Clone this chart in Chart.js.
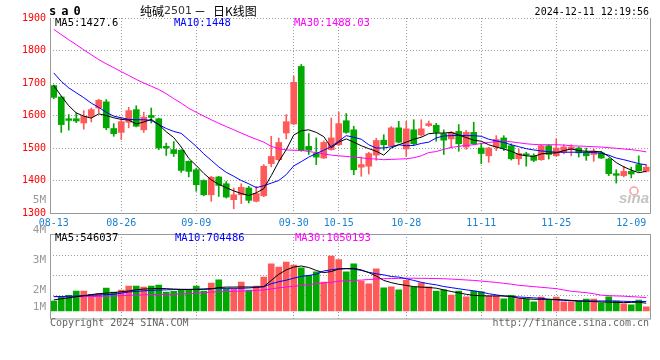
<!DOCTYPE html>
<html>
<head>
<meta charset="utf-8">
<script src="https://cdn.jsdelivr.net/npm/chart.js@4.4.1/dist/chart.umd.min.js"></script>
<style>
  html, body { margin: 0; padding: 0; background: #fff; }
  #wrap { position: relative; width: 660px; height: 360px; }
  #wrap canvas { position: absolute; left: 0; top: 0; }
</style>
</head>
<body>
<div id="wrap">
  <canvas id="kline" width="660" height="360"></canvas>
  <canvas id="vol" width="660" height="360"></canvas>
</div>
<script>
// 交易日
const dates = ['08-13','08-14','08-15','08-16','08-19','08-20','08-21','08-22','08-23',
  '08-26','08-27','08-28','08-29','08-30','09-02','09-03','09-04','09-05','09-06',
  '09-09','09-10','09-11','09-12','09-13','09-18','09-19','09-20','09-23','09-24','09-25','09-26','09-27',
  '09-30','10-08','10-09','10-10','10-11','10-14',
  '10-15','10-16','10-17','10-18','10-21','10-22','10-23','10-24','10-25',
  '10-28','10-29','10-30','10-31','11-01','11-04','11-05','11-06','11-07','11-08',
  '11-11','11-12','11-13','11-14','11-15','11-18','11-19','11-20','11-21','11-22',
  '11-25','11-26','11-27','11-28','11-29','12-02','12-03','12-04','12-05','12-06',
  '12-09','12-10','12-11'];
const xTickLabels = ['08-13','08-26','09-09','09-30','10-15','10-28','11-11','11-25','12-09'];
const priceTicks = [1300, 1400, 1500, 1600, 1700, 1800, 1900];
const volTickLabels = ['4M', '3M', '2M', '1M'];

const open = [1692,1657,1590,1590,1577,1597,1623,1642,1560,1548,
  1579,1618,1556,1600,1590,1505,1495,1493,1459,1433,
  1400,1356,1411,1390,1341,1356,1377,1336,1353,1452,
  1464,1546,1574,1751,1505,1483,1469,1495,1510,1584,
  1556,1441,1444,1478,1524,1507,1562,1497,1556,1540,
  1569,1570,1544,1528,1551,1503,1548,1500,1476,1503,
  1531,1507,1467,1482,1476,1464,1507,1476,1487,1495,
  1500,1487,1480,1485,1466,1421,1415,1428,1449,1428];
const high = [1694,1659,1603,1608,1615,1623,1650,1649,1575,1595,
  1625,1630,1610,1623,1592,1515,1520,1495,1460,1438,
  1402,1413,1413,1397,1377,1390,1382,1382,1449,1536,
  1531,1603,1721,1757,1544,1531,1522,1592,1610,1606,
  1567,1472,1487,1530,1541,1566,1582,1582,1587,1587,
  1583,1576,1556,1551,1572,1554,1579,1515,1502,1538,
  1538,1513,1497,1487,1482,1510,1510,1528,1510,1510,
  1503,1500,1497,1490,1469,1433,1444,1441,1476,1449];
const low = [1652,1548,1555,1578,1558,1580,1608,1556,1536,1526,
  1562,1565,1548,1577,1495,1477,1474,1425,1411,1367,
  1353,1336,1351,1346,1313,1329,1331,1334,1350,1442,
  1460,1528,1572,1490,1480,1449,1468,1493,1507,1545,
  1418,1413,1420,1462,1493,1505,1516,1474,1508,1536,
  1566,1521,1480,1500,1490,1496,1510,1452,1456,1492,
  1492,1463,1449,1444,1458,1462,1466,1474,1482,1476,
  1472,1462,1459,1468,1415,1392,1411,1408,1428,1426];
const close = [1656,1572,1585,1583,1597,1618,1647,1562,1544,1581,
  1615,1567,1595,1594,1500,1500,1483,1431,1428,1387,
  1356,1410,1385,1349,1356,1379,1339,1360,1444,1474,
  1517,1581,1702,1492,1493,1472,1517,1531,1575,1548,
  1433,1449,1483,1523,1510,1562,1518,1559,1513,1559,
  1575,1548,1524,1548,1513,1548,1513,1483,1500,1526,
  1500,1467,1483,1478,1462,1507,1480,1500,1503,1503,
  1485,1476,1490,1469,1421,1416,1428,1420,1430,1441];

const ma5 = [1692,1660,1630,1608,1598,1592,1605,1600,1593,1588,
  1586,1574,1580,1588,1572,1550,1532,1503,1468,1446,
  1422,1402,1388,1378,1368,1360,1354,1362,1375,1415,
  1458,1495,1540,1553,1556,1548,1535,1501,1518,1528,
  1518,1507,1498,1490,1478,1500,1510,1518,1527,1533,
  1544,1546,1546,1548,1540,1532,1524,1521,1510,1503,
  1497,1490,1480,1476,1474,1482,1484,1485,1492,1497,
  1492,1490,1490,1488,1474,1455,1442,1432,1424,1428];
const ma10 = [1731,1705,1685,1670,1655,1638,1625,1610,1598,1593,
  1588,1587,1587,1585,1572,1560,1551,1545,1525,1505,
  1482,1462,1442,1425,1413,1400,1390,1378,1384,1392,
  1400,1418,1445,1458,1472,1483,1493,1505,1521,1538,
  1533,1527,1510,1500,1500,1504,1510,1507,1508,1514,
  1518,1531,1537,1538,1539,1538,1538,1536,1527,1522,
  1517,1510,1504,1498,1494,1491,1489,1487,1487,1487,
  1487,1487,1486,1484,1478,1469,1464,1458,1452,1448];
const ma30 = [1865,1849,1833,1818,1802,1787,1772,1759,1747,1735,
  1723,1711,1700,1690,1680,1667,1652,1638,1622,1610,
  1598,1587,1576,1566,1556,1546,1536,1527,1518,1505,
  1498,1494,1493,1493,1489,1486,1482,1478,1476,1474,
  1472,1470,1467,1466,1464,1465,1466,1467,1470,1476,
  1486,1489,1496,1502,1505,1508,1510,1514,1517,1520,
  1521,1519,1516,1513,1511,1510,1510,1510,1509,1507,
  1506,1505,1504,1503,1501,1499,1497,1495,1492,1488];

const volume = [750000,1110000,1260000,1650000,1650000,1350000,1440000,1920000,1560000,1740000,
  2100000,2100000,2010000,2100000,2190000,1560000,1620000,1710000,1710000,2100000,
  1650000,2370000,2660000,1850000,1850000,2460000,1740000,2100000,2910000,4100000,
  3810000,4260000,3990000,3740000,3060000,3380000,2460000,4800000,4480000,3380000,
  4100000,2550000,2300000,3650000,1940000,2030000,1760000,2610000,2010000,2390000,
  2030000,1650000,1760000,1290000,1650000,1130000,1650000,1580000,1200000,1200000,
  950000,1260000,950000,900000,680000,1110000,840000,1110000,680000,680000,
  750000,930000,930000,590000,1130000,750000,500000,390000,840000,230000];
const volMa5 = [840,950,1030,1130,1230,1320,1400,1460,1500,1580,
  1650,1760,1820,1850,1870,1860,1820,1800,1790,1790,
  1800,1830,1960,2000,2000,2010,2010,2000,2040,2600,
  3150,3550,3800,3900,3760,3500,3300,3400,3620,3660,
  3680,3550,3300,3000,2600,2400,2250,2150,2040,2000,
  1960,1900,1750,1600,1480,1350,1250,1220,1200,1200,
  1200,1150,1000,950,900,900,900,880,850,800,
  750,720,690,660,640,620,600,620,640,546].map(v => v * 1000);
const volMa10 = [1140,1150,1170,1190,1220,1260,1290,1320,1350,1450,
  1560,1610,1660,1700,1730,1750,1770,1780,1790,1800,
  1830,1870,1880,1890,1890,1890,1920,1970,2040,2300,
  2480,2620,2800,2960,3050,3150,3450,3560,3650,3660,
  3620,3500,3330,3200,3100,2950,2900,2750,2600,2430,
  2300,2200,2050,1950,1850,1750,1660,1550,1400,1300,
  1200,1160,1110,1070,1030,990,900,850,800,770,
  750,750,750,750,750,740,720,700,700,704].map(v => v * 1000);
const volMa30 = [1140,1140,1140,1140,1140,1140,1160,1180,1200,1230,
  1260,1280,1300,1320,1330,1340,1350,1380,1410,1440,
  1500,1550,1570,1600,1620,1640,1660,1700,1740,1840,
  1930,2010,2080,2140,2230,2300,2380,2420,2540,2570,
  2600,2630,2680,2720,2750,2770,2780,2800,2800,2790,
  2780,2770,2750,2720,2680,2640,2600,2540,2480,2420,
  2340,2260,2160,2100,2040,1980,1920,1860,1740,1620,
  1560,1500,1400,1270,1230,1200,1180,1140,1100,1050].map(v => v * 1000);

const RED = '#ff5a5a';
const GREEN = '#00a800';
const GRID = '#9c9c9c';
const FRAME = '#999999';
const MONO = '"DejaVu Sans Mono", "Liberation Mono", monospace';

const candleColor = close.map((c, i) => c >= open[i] ? RED : GREEN);
const gridDates = xTickLabels.slice(1, -1);

function xGridColor(c) {
  return gridDates.includes(dates[c.index]) ? GRID : 'rgba(0,0,0,0)';
}

function maLine(label, data, color) {
  return { type: 'line', label: label, data: data, borderColor: color, borderWidth: 1,
    pointRadius: 0, tension: 0, fill: false, order: 0 };
}

function txt(ctx, s, x, y, font, color, align) {
  ctx.font = font;
  ctx.fillStyle = color;
  ctx.textAlign = align || 'left';
  ctx.textBaseline = 'middle';
  ctx.fillText(s, x, y);
}

// 主图边框和文字
const kDeco = {
  id: 'kDeco',
  afterDraw(chart) {
    const { ctx, chartArea: a } = chart;
    ctx.save();
    ctx.strokeStyle = FRAME;
    ctx.lineWidth = 1;
    ctx.beginPath();
    ctx.moveTo(a.left + 0.5, a.top);
    ctx.lineTo(a.left + 0.5, a.bottom + 0.5);
    ctx.lineTo(a.right + 0.5, a.bottom + 0.5);
    ctx.lineTo(a.right + 0.5, a.top);
    ctx.stroke();

    ['s', 'a', '0'].forEach((ch, i) => txt(ctx, ch, 49 + i * 12.3, 11.5, 'bold 12px ' + MONO, '#000'));
    txt(ctx, '纯碱', 140, 11, '12px "Noto Sans CJK SC"', '#000');
    txt(ctx, '2501', 164, 11, '11px "DejaVu Sans"', '#333');
    txt(ctx, '－', 194, 11, '12px "Noto Sans CJK SC"', '#000');
    txt(ctx, '日K线图', 213, 11, '12px "Noto Sans CJK SC"', '#000');
    txt(ctx, '2024-12-11 12:19:56', 649, 12, '10px ' + MONO, '#000', 'right');

    txt(ctx, 'MA5:1427.6', 55, 23.5, '10.5px ' + MONO, '#000');
    txt(ctx, 'MA10:1448', 174, 23.5, '10.5px ' + MONO, '#0000ff');
    txt(ctx, 'MA30:1488.03', 294, 23.5, '10.5px ' + MONO, '#ff00ff');

    txt(ctx, '5M', 46, 200.5, '11px ' + MONO, '#999', 'right');

    ctx.strokeStyle = '#f4a0a0';
    ctx.lineWidth = 1.5;
    ctx.beginPath();
    ctx.arc(634, 191, 4, 0, Math.PI * 2);
    ctx.stroke();
    txt(ctx, 'sina', 619, 199, 'italic bold 15px "Liberation Sans"', '#c4c4c4');
    ctx.restore();
  }
};

// 成交量边框和文字
const vDeco = {
  id: 'vDeco',
  afterDraw(chart) {
    const { ctx, chartArea: a } = chart;
    ctx.save();
    ctx.strokeStyle = FRAME;
    ctx.lineWidth = 1;
    ctx.strokeRect(a.left + 0.5, a.top + 0.5, a.right - a.left, a.bottom - a.top);

    const ys = [230.5, 260.5, 290, 307];
    volTickLabels.forEach((s, i) => txt(ctx, s, 46, ys[i], '11px ' + MONO, '#999', 'right'));

    txt(ctx, 'MA5:546037', 55, 238.5, '10.5px ' + MONO, '#000');
    txt(ctx, 'MA10:704486', 175, 238.5, '10.5px ' + MONO, '#0000ff');
    txt(ctx, 'MA30:1050193', 295, 238.5, '10.5px ' + MONO, '#ff00ff');

    txt(ctx, 'Copyright 2024 SINA.COM', 50, 323.5, '10px ' + MONO, '#666');
    txt(ctx, 'http://finance.sina.com.cn', 649, 323.5, '10px ' + MONO, '#666', 'right');
    ctx.restore();
  }
};

new Chart(document.getElementById('kline'), {
  type: 'bar',
  data: {
    labels: dates,
    datasets: [
      maLine('MA5', ma5, '#000000'),
      maLine('MA10', ma10, '#0000ff'),
      maLine('MA30', ma30, '#ff00ff'),
      {
        label: 'body',
        data: open.map((o, i) => [Math.min(o, close[i]), Math.max(o, close[i])]),
        backgroundColor: candleColor,
        barThickness: 6,
        minBarLength: 1,
        grouped: false,
        order: 1
      },
      {
        label: 'wick',
        data: low.map((l, i) => [l, high[i]]),
        backgroundColor: candleColor,
        barThickness: 1,
        grouped: false,
        order: 2
      }
    ]
  },
  options: {
    responsive: false,
    animation: false,
    devicePixelRatio: 1,
    layout: { padding: { top: 18, right: 10, bottom: 127, left: 0 } },
    plugins: { legend: { display: false }, tooltip: { enabled: false } },
    scales: {
      x: {
        grid: { offset: false, drawTicks: false, color: xGridColor },
        border: { display: false, dash: [1, 2] },
        ticks: {
          autoSkip: false, maxRotation: 0, padding: 4,
          color: '#1a80d0', font: { family: MONO, size: 10 },
          callback: (v, i) => xTickLabels.includes(dates[i]) ? dates[i] : ''
        },
        afterFit: (s) => { s.height = 20; }
      },
      y: {
        min: priceTicks[0],
        max: priceTicks[priceTicks.length - 1],
        afterBuildTicks: (s) => { s.ticks = priceTicks.map(v => ({ value: v })); },
        grid: { drawTicks: false, color: GRID },
        border: { display: false, dash: [1, 2] },
        ticks: {
          padding: 4, color: '#ff0000', font: { family: MONO, size: 10 },
          callback: (v) => String(v)
        },
        afterFit: (s) => { s.width = 50; }
      }
    }
  },
  plugins: [kDeco]
});

new Chart(document.getElementById('vol'), {
  type: 'bar',
  data: {
    labels: dates,
    datasets: [
      maLine('MA5', volMa5, '#000000'),
      maLine('MA10', volMa10, '#0000ff'),
      maLine('MA30', volMa30, '#ff00ff'),
      {
        label: 'volume',
        data: volume,
        backgroundColor: candleColor,
        barThickness: 6,
        base: -150000,
        order: 1
      }
    ]
  },
  options: {
    responsive: false,
    animation: false,
    devicePixelRatio: 1,
    layout: { padding: { top: 234, right: 10, bottom: 41.5, left: 0 } },
    plugins: { legend: { display: false }, tooltip: { enabled: false } },
    scales: {
      x: {
        grid: { offset: false, drawTicks: false, color: xGridColor },
        border: { display: false, dash: [1, 2] },
        ticks: { display: false, autoSkip: false },
        afterFit: (s) => { s.height = 0; }
      },
      y: {
        min: -830000,
        max: 6780000,
        afterBuildTicks: (s) => { s.ticks = [1260000, 3060000, 4800000].map(v => ({ value: v })); },
        grid: { drawTicks: false, color: GRID },
        border: { display: false, dash: [1, 2] },
        ticks: { display: false },
        afterFit: (s) => { s.width = 50; }
      }
    }
  },
  plugins: [vDeco]
});
</script>
</body>
</html>
